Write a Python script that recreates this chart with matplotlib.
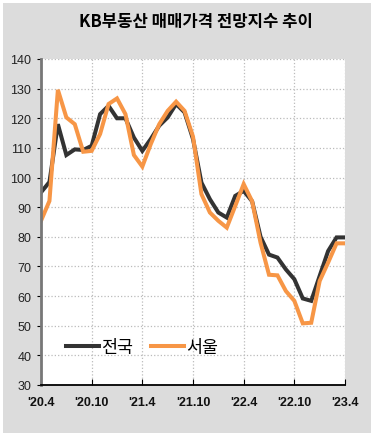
import matplotlib.pyplot as plt
from matplotlib.patches import Rectangle

plt.rcParams['font.family'] = ['Liberation Sans', 'Noto Sans CJK KR', 'DejaVu Sans']

# 월 인덱스 ('20.4 = 0 ... '23.4 = 36)
months = list(range(37))
tick_pos = [0, 6, 12, 18, 24, 30, 36]
tick_labels = ["'20.4", "'20.10", "'21.4", "'21.10", "'22.4", "'22.10", "'23.4"]

# 전국
nation = [95, 98.5, 118, 107.6, 109.5, 109.3, 110.7, 121.4, 124.2, 120, 120, 113.5,
          109, 113, 117.5, 120.3, 124.8, 122, 113, 98.3, 92.7, 88.2, 86.5, 93.8,
          95.5, 92, 80, 74, 73, 69, 65.7, 59.2, 58.4, 66.8, 75.2, 79.8, 79.8]
# 서울
seoul = [85.4, 92.1, 129.6, 120.3, 118, 108.7, 109, 114.7, 124.8, 126.7, 121.4, 107.6,
         103.7, 111.3, 118, 122.5, 125.6, 122.5, 113.8, 94.4, 88.2, 85.4, 83.1, 90.4,
         97.8, 92, 78, 67.2, 67, 61.7, 58.4, 50.8, 51, 65.1, 71.3, 77.8, 77.8]

fig = plt.figure(figsize=(3.76, 4.39), dpi=100, facecolor='white')
# 회색 배경 패널
fig.patches.append(Rectangle((3/376, 5/439), 368/376, 430/439, transform=fig.transFigure,
                             facecolor='#dcdcdc', edgecolor='none', zorder=-5))

ax = fig.add_axes([41/376, 53/439, 304/376, 326/439])
ax.set_facecolor('white')

ax.plot(months, nation, color='#333333', lw=2.9, label='전국', solid_joinstyle='miter')
ax.plot(months, seoul, color='#f79646', lw=2.9, label='서울', solid_joinstyle='miter')

ax.set_xlim(0, 36)
ax.set_ylim(30, 140)
ax.set_yticks(range(30, 141, 10))
ax.set_xticks(tick_pos)
ax.set_xticklabels(tick_labels, fontweight='bold', fontsize=9, color='#111111')
ax.tick_params(axis='y', direction='out', length=3, labelsize=9, labelcolor='#222222', pad=4)
ax.tick_params(axis='x', direction='in', length=4, pad=8)
ax.grid(True, color='#bbbbbb', linestyle=':', linewidth=0.9)

for s in ['top', 'right']:
    ax.spines[s].set_visible(False)
ax.spines['left'].set_color('#777777')
ax.spines['left'].set_linewidth(2)
ax.spines['bottom'].set_color('black')
ax.spines['bottom'].set_linewidth(1.3)

leg = ax.legend(loc='lower left', bbox_to_anchor=(0.03, 0.04), ncol=2, frameon=False,
                prop={'family': ['Noto Sans CJK KR'], 'size': 12.5},
                handlelength=1.9, handletextpad=0.15, columnspacing=1.0)

fig.text(196/376, 1 - 22/439, 'KB부동산 매매가격 전망지수 추이', ha='center', va='center',
         fontsize=12, fontweight='bold', family=['Noto Sans CJK KR'])

fig.savefig('out.png', dpi=100)
